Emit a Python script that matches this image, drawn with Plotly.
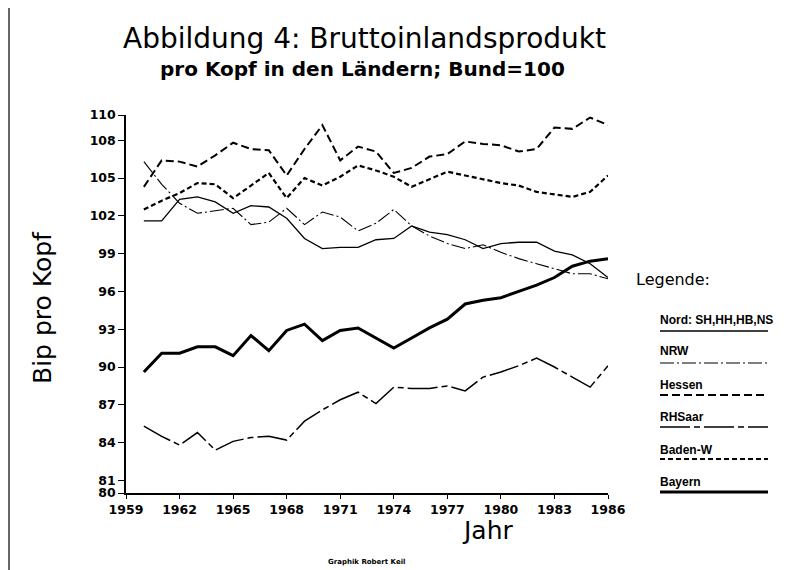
import plotly.graph_objects as go

years = list(range(1960, 1987))

nord = [101.6, 101.6, 103.3, 103.5, 103.1, 102.2, 102.8, 102.7, 101.8, 100.2, 99.4, 99.5, 99.5,
        100.1, 100.2, 101.2, 100.7, 100.5, 100.1, 99.4, 99.8, 99.9, 99.9, 99.2, 98.9, 98.2, 97.1]
nrw = [106.3, 104.5, 103.0, 102.2, 102.4, 102.6, 101.3, 101.5, 102.6, 101.3, 102.3, 101.9, 100.8,
       101.4, 102.5, 101.2, 100.4, 99.8, 99.4, 99.7, 99.1, 98.6, 98.2, 97.8, 97.4, 97.4, 97.0]
hessen = [104.3, 106.4, 106.3, 105.9, 106.8, 107.8, 107.3, 107.2, 105.2, 107.3, 109.2, 106.4, 107.5,
          107.1, 105.4, 105.8, 106.7, 106.9, 107.9, 107.7, 107.6, 107.1, 107.3, 109.0, 108.9, 109.8, 109.2]
rhsaar = [85.3, 84.5, 83.8, 84.8, 83.4, 84.1, 84.4, 84.5, 84.2, 85.7, 86.6, 87.4, 88.0,
          87.1, 88.4, 88.3, 88.3, 88.5, 88.1, 89.2, 89.6, 90.1, 90.7, 90.0, 89.2, 88.4, 90.1]
bw = [102.5, 103.2, 103.8, 104.6, 104.5, 103.4, 104.4, 105.4, 103.4, 105.0, 104.4, 105.1, 106.0,
      105.6, 105.1, 104.3, 104.9, 105.5, 105.2, 104.9, 104.6, 104.4, 103.9, 103.7, 103.5, 103.9, 105.2]
bayern = [89.6, 91.1, 91.1, 91.6, 91.6, 90.9, 92.5, 91.3, 92.9, 93.4, 92.1, 92.9, 93.1,
          92.3, 91.5, 92.3, 93.1, 93.8, 95.0, 95.3, 95.5, 96.0, 96.5, 97.1, 98.0, 98.4, 98.6]

series_names = ["Nord: SH,HH,HB,NS", "NRW", "Hessen", "RHSaar", "Baden-W", "Bayern"]
series_values = [nord, nrw, hessen, rhsaar, bw, bayern]
styles = [
    dict(width=1.3, dash="solid"),
    dict(width=1.1, dash="14px,3px,2px,3px"),
    dict(width=2.0, dash="8px,4px"),
    dict(width=1.5, dash="30px,4px,6px,4px"),
    dict(width=2.2, dash="5px,3px"),
    dict(width=3.0, dash="solid"),
]

y_ticks = [80, 81, 84, 87, 90, 93, 96, 99, 102, 105, 108, 110]
x_ticks = [1959, 1962, 1965, 1968, 1971, 1974, 1977, 1980, 1983, 1986]

OFF = 8  # page body margin of the browser
W, H = 796 - OFF, 570 - OFF
L, T = 126 - OFF, 115 - OFF
R, B = W - (608 - OFF), H - (493 - OFF)
PW, PH = W - L - R, H - T - B


def px(x):
    return (x - OFF - L) / PW


def py(y):
    return (H - B - (y - OFF)) / PH


fig = go.Figure()
for name, vals, st in zip(series_names, series_values, styles):
    fig.add_trace(go.Scatter(x=years, y=vals, mode="lines", name=name,
                             line=dict(color="black", width=st["width"], dash=st["dash"]),
                             showlegend=False))

tickfont = dict(family="DejaVu Sans", size=12.5, color="black", weight="bold")
fig.update_layout(
    width=W, height=H,
    margin=dict(l=L, r=R, t=T, b=B),
    paper_bgcolor="white", plot_bgcolor="white",
    xaxis=dict(range=[1959, 1986], tickvals=x_ticks, ticktext=[str(v) for v in x_ticks],
               showgrid=False, zeroline=False, showline=True, linecolor="black", linewidth=1.5,
               ticks="outside", ticklen=4, tickcolor="black", tickfont=tickfont),
    yaxis=dict(range=[80, 110], tickvals=y_ticks, ticktext=[str(v) for v in y_ticks],
               showgrid=False, zeroline=False, showline=True, linecolor="black", linewidth=1.5,
               ticks="outside", ticklen=6, tickcolor="black", tickfont=tickfont),
)


def text(t, x, y, size, weight="normal", family="DejaVu Sans", xanchor="center", angle=0):
    return dict(text=t, x=px(x), y=py(y), xref="paper", yref="paper", xanchor=xanchor, yanchor="middle",
                textangle=angle, showarrow=False,
                font=dict(family=family, size=size, color="black", weight=weight))


ann = [
    text("Abbildung 4: Bruttoinlandsprodukt", 364, 39, 28),
    text("pro Kopf in den Ländern; Bund=100", 362, 69, 20, weight="bold"),
    text("Bip pro Kopf", 42, 308, 25, angle=-90),
    text("Jahr", 488, 530, 25),
    text("Graphik Robert Keil", 366, 562, 7, weight="bold"),
    text("Legende:", 634, 279, 16, xanchor="left"),
]

label_y = [320, 351, 385, 417, 450, 482]
line_y = [331, 363, 395, 427, 459, 492]
shapes = []
for name, st, ly, lny in zip(series_names, styles, label_y, line_y):
    ann.append(text(name, 658, ly, 12, weight="bold", family="Liberation Sans", xanchor="left"))
    shapes.append(dict(type="line", xref="paper", yref="paper", x0=px(660), x1=px(768), y0=py(lny), y1=py(lny),
                       line=dict(color="black", width=st["width"], dash=st["dash"])))

shapes.append(dict(type="line", xref="paper", yref="paper", x0=px(9), x1=px(9), y0=py(8), y1=py(570),
                   line=dict(color="black", width=1.2)))
shapes.append(dict(type="line", xref="paper", yref="paper", x0=px(791), x1=px(791), y0=py(8), y1=py(548),
                   line=dict(color="black", width=1.2)))

fig.update_layout(annotations=ann, shapes=shapes)
fig.write_html("out.html")
